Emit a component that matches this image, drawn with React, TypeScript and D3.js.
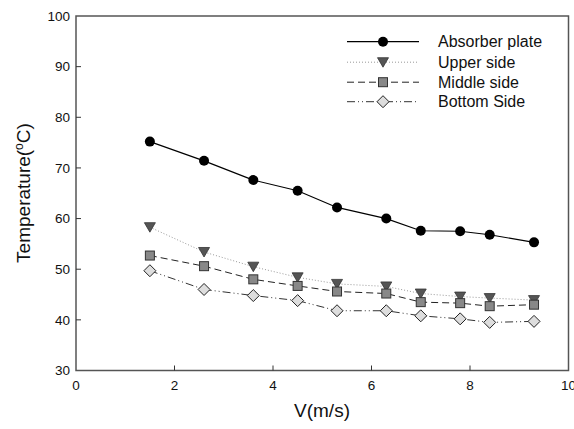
import React from "react";
import * as d3 from "d3";

const velocity = [1.5, 2.6, 3.6, 4.5, 5.3, 6.3, 7.0, 7.8, 8.4, 9.3];
const absorber = [75.2, 71.4, 67.6, 65.5, 62.2, 60.0, 57.6, 57.5, 56.8, 55.3];
const upper = [58.3, 53.4, 50.5, 48.4, 47.1, 46.6, 45.2, 44.6, 44.3, 43.9];
const middle = [52.7, 50.6, 48.0, 46.7, 45.6, 45.2, 43.5, 43.3, 42.7, 43.0];
const bottom = [49.7, 46.0, 44.8, 43.8, 41.8, 41.8, 40.8, 40.2, 39.5, 39.7];
const xTicks = [0, 2, 4, 6, 8, 10];
const yTicks = [30, 40, 50, 60, 70, 80, 90, 100];
const seriesNames = ["Absorber plate", "Upper side", "Middle side", "Bottom Side"];

const W = 574, H = 429;
const left = 76, right = 568.5, top = 16, bottomY = 370.5;

export default function App() {
  const x = d3.scaleLinear().domain([0, 10]).range([left, right]);
  const y = d3.scaleLinear().domain([30, 100]).range([bottomY, top]);
  const line = d3.line<number>().x((_, i) => x(velocity[i])).y((d) => y(d));

  const series = [
    { name: seriesNames[0], data: absorber, dash: "", stroke: "#000", sw: 1.2, marker: "circle" },
    { name: seriesNames[1], data: upper, dash: "1,2", stroke: "#999", sw: 1, marker: "triangle" },
    { name: seriesNames[2], data: middle, dash: "7,4", stroke: "#222", sw: 1, marker: "square" },
    { name: seriesNames[3], data: bottom, dash: "8,3,1,3,1,3", stroke: "#333", sw: 1, marker: "diamond" },
  ];

  const marker = (type: string, cx: number, cy: number, key: string) => {
    if (type === "circle") return <circle key={key} cx={cx} cy={cy} r={5} fill="#000" />;
    if (type === "triangle")
      return (
        <path key={key} d={`M${cx - 5.5},${cy - 4.5}L${cx + 5.5},${cy - 4.5}L${cx},${cy + 5}Z`} fill="#555" stroke="#333" strokeWidth={0.8} />
      );
    if (type === "square")
      return <rect key={key} x={cx - 4.5} y={cy - 4.5} width={9} height={9} fill="#888" stroke="#333" strokeWidth={1} />;
    return (
      <path key={key} d={`M${cx},${cy - 6}L${cx + 6},${cy}L${cx},${cy + 6}L${cx - 6},${cy}Z`} fill="#ddd" stroke="#222" strokeWidth={1} />
    );
  };

  const legendY = [41.7, 62.2, 82.2, 101.7];

  return (
    <svg width={W} height={H} style={{ position: "absolute", left: 0, top: 0 }} fontFamily="Arial, 'Liberation Sans', sans-serif">
      <rect width={W} height={H} fill="#fff" />
      {series.map((s) => (
        <path key={s.name} d={line(s.data) || ""} fill="none" stroke={s.stroke} strokeWidth={s.sw} strokeDasharray={s.dash} />
      ))}
      {series.map((s) => s.data.map((d, i) => marker(s.marker, x(velocity[i]), y(d), s.name + i)))}
      <rect x={left} y={top} width={right - left} height={bottomY - top} fill="none" stroke="#555" strokeWidth={1.5} />
      {yTicks.map((t) => (
        <g key={"y" + t}>
          {t !== 30 && t !== 100 && <line x1={left} x2={left + 5} y1={y(t)} y2={y(t)} stroke="#333" />}
          <text x={left - 6} y={y(t)} dy="0.35em" textAnchor="end" fontSize={13.5} fill="#111">{t}</text>
        </g>
      ))}
      {xTicks.map((t) => (
        <g key={"x" + t}>
          {t !== 0 && t !== 10 && <line x1={x(t)} x2={x(t)} y1={bottomY} y2={bottomY - 5} stroke="#333" />}
          <text x={x(t)} y={bottomY + 19} textAnchor="middle" fontSize={13.5} fill="#111">{t}</text>
        </g>
      ))}
      <text x={322} y={417} textAnchor="middle" fontSize={19} fill="#111">V(m/s)</text>
      <text transform={`translate(29.5,193) rotate(-90)`} textAnchor="middle" fontSize={19} fill="#111">
        Temperature(<tspan dy={-7} fontSize={12}>o</tspan><tspan dy={7}>C)</tspan>
      </text>
      {series.map((s, i) => (
        <g key={"lg" + i}>
          <line x1={347} x2={419} y1={legendY[i]} y2={legendY[i]} stroke={s.stroke} strokeWidth={s.sw} strokeDasharray={s.dash} />
          {marker(s.marker, 383, legendY[i], "lm" + i)}
          <text x={438} y={legendY[i]} dy="0.35em" fontSize={16} fill="#111">{s.name}</text>
        </g>
      ))}
    </svg>
  );
}
